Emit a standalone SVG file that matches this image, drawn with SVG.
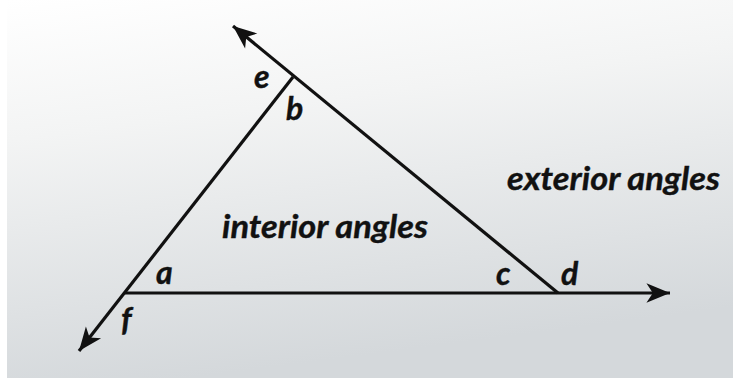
<svg xmlns="http://www.w3.org/2000/svg" width="733" height="383" viewBox="0 0 733 383">
  <defs>
    <linearGradient id="bg" x1="0" y1="0" x2="0.25" y2="1">
      <stop offset="0" stop-color="#ffffff"/>
      <stop offset="0.35" stop-color="#f3f4f4"/>
      <stop offset="1" stop-color="#d4d8db"/>
    </linearGradient>
    <marker id="arrow" markerUnits="userSpaceOnUse" markerWidth="30" markerHeight="30" viewBox="-24 -12 28 24" refX="0" refY="0" orient="auto">
      <path d="M0,0 L-22,-9 L-16,0 L-22,9 Z" fill="#111"/>
    </marker>
    <style>
      .ray { stroke: #111; stroke-width: 3.2; fill: none; marker-end: url(#arrow); }
      .lbl { font-family: Lato, "Open Sans", sans-serif; font-weight: 700; font-style: italic; fill: #111; font-size: 32px; stroke: #111; stroke-width: 0.4; }
      .big { font-size: 33px; }
    </style>
  </defs>
  <rect x="0" y="0" width="733" height="383" fill="#ffffff"/>
  <rect x="7" y="0" width="726" height="378" fill="url(#bg)"/>
  <g id="connectors">
    <path class="ray" d="M293,77 L79,351"/>
    <path class="ray" d="M558,293 L233,26"/>
    <path class="ray" d="M125,293 L670,293"/>
  </g>
  <g id="label-e"><text class="lbl" x="254" y="88">e</text></g>
  <g id="label-b"><text class="lbl" x="286" y="120">b</text></g>
  <g id="label-a"><text class="lbl" x="156" y="284">a</text></g>
  <g id="label-c"><text class="lbl" x="496" y="285">c</text></g>
  <g id="label-d"><text class="lbl" x="561" y="285">d</text></g>
  <g id="label-f"><text class="lbl" x="121" y="331">f</text></g>
  <g id="interior"><text class="lbl big" x="222" y="238" textLength="206" lengthAdjust="spacingAndGlyphs">interior angles</text></g>
  <g id="exterior"><text class="lbl big" x="507" y="190" textLength="213" lengthAdjust="spacingAndGlyphs">exterior angles</text></g>
</svg>
